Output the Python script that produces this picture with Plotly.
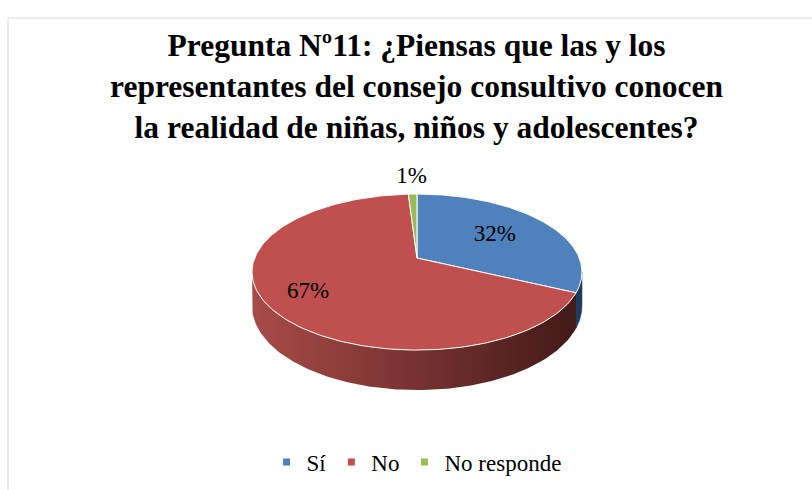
import numpy as np
import plotly.graph_objects as go

categories = ["Sí", "No", "No responde"]
values = [32, 67, 1]
labels_text = ["32%", "67%", "1%"]
colors = ["#4F81BD", "#C0504D", "#9BBB59"]
side_colors = ["#1F3A5F", None, "#5E7432"]

W, H = 812, 490
SERIF = "Times New Roman, Liberation Serif, serif"

# simple perspective projection of a disk (layout constants)
cx, cy = 417, 258      # projected centre of the top face
k = 162.3              # horizontal radius scale
c = 75.5               # vertical radius scale
p = 0.18               # perspective factor
h = 32.8               # thickness

total = sum(values)
fracs = [v / total for v in values]
starts = np.cumsum([0] + fracs[:-1]) * 360
ends = np.cumsum(fracs) * 360


def proj(theta_deg, r=1.0, z=0.0):
    t = np.radians(theta_deg)
    X = r * np.sin(t)
    Y = r * np.cos(t)
    w = 1 + p * Y
    return cx + k * X / w, cy - c * Y / w + h * z / w


fig = go.Figure()

# visible side wall spans between silhouette angles
sil = np.degrees(np.arccos(-p))
for i, (s, e) in enumerate(zip(starts, ends)):
    lo, hi = max(s, sil), min(e, 360 - sil)
    if hi <= lo:
        continue
    th = np.linspace(lo, hi, 150)
    xt, yt = proj(th)
    xb, yb = proj(th[::-1], z=1)
    xs = np.concatenate([xt, xb, [xt[0]]])
    ys = np.concatenate([yt, yb, [yt[0]]])
    if i == 1:
        fig.add_trace(go.Scatter(
            x=xs, y=ys, mode="lines", fill="toself",
            line=dict(color="rgba(0,0,0,0)", width=0),
            fillgradient=dict(type="horizontal",
                              colorscale=[[0, "#A84B48"], [0.45, "#7C3533"], [1, "#421A19"]]),
            showlegend=False, hoverinfo="skip"))
    else:
        fig.add_trace(go.Scatter(
            x=xs, y=ys, mode="lines", fill="toself",
            line=dict(color=side_colors[i], width=0.5),
            fillcolor=side_colors[i], showlegend=False, hoverinfo="skip"))

# top face wedges
for i, (s, e) in enumerate(zip(starts, ends)):
    th = np.linspace(s, e, 200)
    xa, ya = proj(th)
    xs = np.concatenate([[cx], xa, [cx]])
    ys = np.concatenate([[cy], ya, [cy]])
    fig.add_trace(go.Scatter(
        x=xs, y=ys, mode="lines", fill="toself",
        line=dict(color="white", width=1),
        fillcolor=colors[i], showlegend=False,
        name=categories[i], hoverinfo="name"))

# data labels
label_r = [0.6, 0.75, 1.33]
for i, (s, e) in enumerate(zip(starts, ends)):
    m = (s + e) / 2
    lx, ly = proj(m, r=label_r[i])
    fig.add_trace(go.Scatter(
        x=[lx], y=[ly], mode="text", text=[labels_text[i]],
        textfont=dict(family=SERIF, size=23, color="black"),
        showlegend=False, hoverinfo="skip"))

# legend entries
for i, cat in enumerate(categories):
    fig.add_trace(go.Scatter(
        x=[None], y=[None], mode="markers", name=cat,
        marker=dict(symbol="square", size=7, color=colors[i])))

fig.add_shape(type="rect", x0=8, y0=18, x1=W + 5, y1=H + 5,
              line=dict(color="#D9D9D9", width=1), layer="below")

fig.update_layout(
    width=W, height=H,
    margin=dict(l=0, r=0, t=0, b=0),
    paper_bgcolor="white", plot_bgcolor="white",
    title=dict(
        text="<b>Pregunta Nº11: ¿Piensas que las y los<br>representantes del consejo consultivo conocen<br>la realidad de niñas, niños y adolescentes?</b>",
        x=0.513, xanchor="center", y=1 - 56 / H, yanchor="top",
        font=dict(family=SERIF, size=31.5, color="black")),
    xaxis=dict(range=[0, W], visible=False, fixedrange=True),
    yaxis=dict(range=[H, 0], visible=False, fixedrange=True),
    legend=dict(orientation="h", x=0.513, xanchor="center", y=1 - 462 / H, yanchor="middle",
                font=dict(family=SERIF, size=23, color="black"),
                bgcolor="rgba(0,0,0,0)", itemwidth=30),
    showlegend=True,
)

fig.write_html("out.html", config={"displayModeBar": False},
               post_script="document.body.style.margin='0';")
